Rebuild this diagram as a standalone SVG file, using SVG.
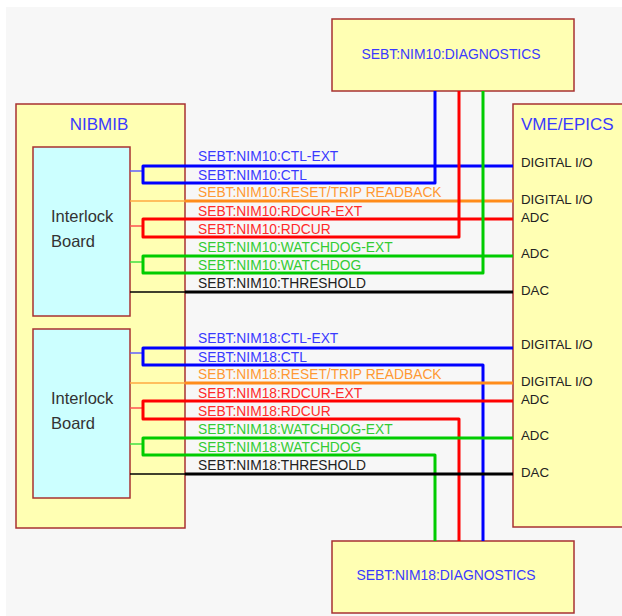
<svg xmlns="http://www.w3.org/2000/svg" width="622" height="616" viewBox="0 0 622 616">
<style>
.box{fill:#ffffb3;stroke:#a83232;stroke-width:1.5}
.board{fill:#ccffff;stroke:#a83232;stroke-width:1.5}
text{font-family:"Liberation Sans",Arial,sans-serif}
.title{font-size:17px;fill:#3a3aff}
.diag{font-size:13.9px;fill:#3a3aff}
.board-t{font-size:16.5px;fill:#333}
.port{font-size:13.3px;fill:#222}
.lbl{font-size:13.8px}
.tb{fill:#3a3aff}.to{fill:#ff9933}.tr{fill:#ff2a2a}.tg{fill:#33cc33}.tk{fill:#222}
.w{fill:none;stroke-width:3;stroke-linejoin:round;stroke-linecap:butt}
.s{fill:none;stroke-width:1.5}
.b{stroke:#0000ff}.o{stroke:#ff8c1a}.r{stroke:#ff0000}.g{stroke:#00cc00}.k{stroke:#000}
.sb{stroke:#6060ff}.so{stroke:#ffaa40}.sr{stroke:#ff5050}.sg{stroke:#40e040}.sk{stroke:#000}
</style>
<rect x="0" y="0" width="622" height="616" fill="#ffffff"/>
<rect x="6" y="7" width="616" height="609" fill="#f7f7f7"/>

<g id="nibmib">
<rect class="box" x="16" y="104" width="169" height="424"/>
<text class="title" x="99" y="129.5" text-anchor="middle">NIBMIB</text>
</g>
<g id="board10">
<rect class="board" x="33" y="147" width="97" height="169"/>
<text class="board-t" x="51" y="222">Interlock</text>
<text class="board-t" x="51" y="247">Board</text>
</g>
<g id="board18">
<rect class="board" x="33" y="329" width="97" height="169"/>
<text class="board-t" x="51" y="404">Interlock</text>
<text class="board-t" x="51" y="429">Board</text>
</g>
<g id="vme">
<rect class="box" x="513" y="104" width="120" height="423"/>
<text class="title" x="521" y="130">VME/EPICS</text>
<text class="port" x="521" y="167">DIGITAL I/O</text>
<text class="port" x="521" y="204">DIGITAL I/O</text>
<text class="port" x="521" y="222">ADC</text>
<text class="port" x="521" y="258">ADC</text>
<text class="port" x="521" y="295">DAC</text>
<text class="port" x="521" y="349">DIGITAL I/O</text>
<text class="port" x="521" y="386">DIGITAL I/O</text>
<text class="port" x="521" y="404">ADC</text>
<text class="port" x="521" y="440">ADC</text>
<text class="port" x="521" y="477">DAC</text>
</g>
<g id="diag10">
<rect class="box" x="332" y="19" width="242" height="72"/>
<text class="diag" x="451" y="59" text-anchor="middle">SEBT:NIM10:DIAGNOSTICS</text>
</g>
<g id="diag18">
<rect class="box" x="332" y="541" width="242" height="72"/>
<text class="diag" x="446" y="580" text-anchor="middle">SEBT:NIM18:DIAGNOSTICS</text>
</g>

<g id="connectors">
<!-- NIM10 -->
<line class="s sb" x1="130" y1="171" x2="143" y2="171"/>
<path class="w b" d="M513,166 H143 V183 H435 V91"/>
<line class="s so" x1="130" y1="201" x2="185" y2="201"/>
<line class="w o" x1="185" y1="201" x2="513" y2="201"/>
<line class="s sr" x1="130" y1="226" x2="143" y2="226"/>
<path class="w r" d="M513,219 H143 V237 H459 V91"/>
<line class="s sg" x1="130" y1="262" x2="143" y2="262"/>
<path class="w g" d="M513,256 H143 V273 H483 V91"/>
<line class="s sk" x1="130" y1="292" x2="185" y2="292"/>
<line class="w k" x1="185" y1="292" x2="513" y2="292"/>
<!-- NIM18 -->
<line class="s sb" x1="130" y1="353" x2="143" y2="353"/>
<path class="w b" d="M513,348 H143 V365 H483 V541"/>
<line class="s so" x1="130" y1="383" x2="185" y2="383"/>
<line class="w o" x1="185" y1="383" x2="513" y2="383"/>
<line class="s sr" x1="130" y1="408" x2="143" y2="408"/>
<path class="w r" d="M513,401 H143 V419 H459 V541"/>
<line class="s sg" x1="130" y1="444" x2="143" y2="444"/>
<path class="w g" d="M513,438 H143 V455 H435 V541"/>
<line class="s sk" x1="130" y1="474" x2="185" y2="474"/>
<line class="w k" x1="185" y1="474" x2="513" y2="474"/>
</g>

<g id="labels" class="lbl">
<text class="tb" x="198" y="161">SEBT:NIM10:CTL-EXT</text>
<text class="tb" x="198" y="180">SEBT:NIM10:CTL</text>
<text class="to" x="198" y="197">SEBT:NIM10:RESET/TRIP READBACK</text>
<text class="tr" x="198" y="216">SEBT:NIM10:RDCUR-EXT</text>
<text class="tr" x="198" y="234">SEBT:NIM10:RDCUR</text>
<text class="tg" x="198" y="252">SEBT:NIM10:WATCHDOG-EXT</text>
<text class="tg" x="198" y="270">SEBT:NIM10:WATCHDOG</text>
<text class="tk" x="198" y="288">SEBT:NIM10:THRESHOLD</text>
<text class="tb" x="198" y="343">SEBT:NIM18:CTL-EXT</text>
<text class="tb" x="198" y="362">SEBT:NIM18:CTL</text>
<text class="to" x="198" y="379">SEBT:NIM18:RESET/TRIP READBACK</text>
<text class="tr" x="198" y="398">SEBT:NIM18:RDCUR-EXT</text>
<text class="tr" x="198" y="416">SEBT:NIM18:RDCUR</text>
<text class="tg" x="198" y="434">SEBT:NIM18:WATCHDOG-EXT</text>
<text class="tg" x="198" y="452">SEBT:NIM18:WATCHDOG</text>
<text class="tk" x="198" y="470">SEBT:NIM18:THRESHOLD</text>
</g>
</svg>
